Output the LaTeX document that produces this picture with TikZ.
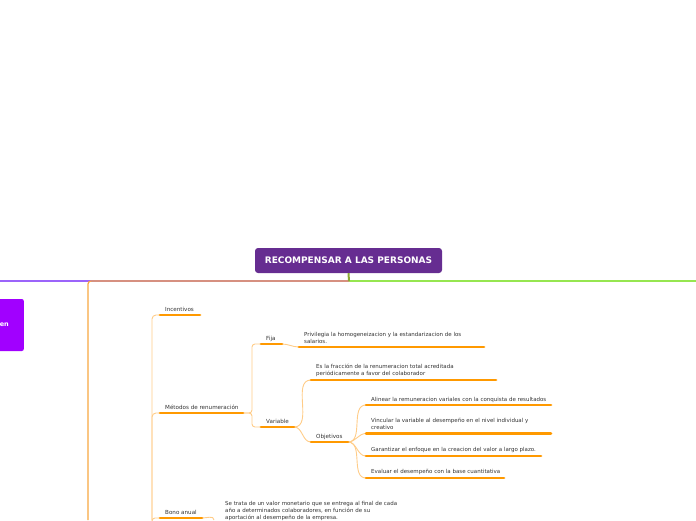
\documentclass[tikz,border=0pt]{standalone}
\usepackage{fontspec}
\setmainfont{DejaVu Sans}
\usetikzlibrary{positioning,calc}
\definecolor{rootpurple}{RGB}{102,45,145}
\definecolor{sideviolet}{RGB}{161,0,255}
\definecolor{purpline}{RGB}{155,100,250}
\definecolor{greenline}{RGB}{150,230,80}
\definecolor{stemolive}{RGB}{140,170,50}
\definecolor{trunkorange}{RGB}{247,168,64}
\definecolor{barorange}{RGB}{255,153,0}
\definecolor{linkorange}{RGB}{255,204,136}
\definecolor{textgray}{RGB}{51,51,51}

\begin{document}
\begin{tikzpicture}[x=1pt, y=-1pt,
  root/.style={rectangle, rounded corners=3pt, fill=rootpurple, text=white, font=\fontsize{9}{11}\selectfont\bfseries, minimum width=187pt, minimum height=25pt, inner sep=0pt},
  side/.style={rectangle, rounded corners=2pt, fill=sideviolet, text=white, font=\fontsize{6.5}{8}\selectfont\bfseries, minimum height=52pt, inner xsep=15pt},
  topic/.style={anchor=base west, inner sep=0pt, text=textgray, font=\fontsize{5.6}{7}\selectfont},
  detail/.style={anchor=base west, inner sep=0pt, align=left, text=textgray, font=\fontsize{5.5}{6.8}\selectfont},
  bar/.style={draw=barorange, line width=2.8pt, line cap=round},
  link/.style={draw=linkorange, line width=0.9pt},
  branch/.style={line width=2pt},
]
\useasboundingbox (0,0) rectangle (696,520);

% === Root and main branches ===
\node[root] (root) at (348.5,260.5) {RECOMPENSAR A LAS PERSONAS};
\node[side, anchor=east] (side) at (24,325) {en};

\coordinate (hub) at (349,281);
\coordinate (west) at (0,281);
\coordinate (east) at (696,281);
\coordinate (down) at (88,520);

\draw[branch, purpline] (hub) -- (west);
\draw[branch, greenline] (hub) -- (east);
\draw[trunkorange, line width=1.2pt, rounded corners=3pt] (hub) -| (down);
\draw[branch, stemolive] (root.south) -- (hub);

% === Level 1 ===
\coordinate (inc-l) at (160,315);   \coordinate (inc-r) at (200,315);
\coordinate (met-l) at (160,413);   \coordinate (met-r) at (243,413);
\coordinate (bono-l) at (160,518);  \coordinate (bono-r) at (202,518);
\coordinate (dmb) at (152,520);

\node[topic] (inc) at (165,311) {Incentivos};
\node[topic] (met) at (165,409) {Métodos de renumeración};
\node[topic] (bono) at (165,514) {Bono anual};

\draw[link, rounded corners=4pt] (inc-l) -| (dmb);
\draw[link, rounded corners=4pt] (met-l) -| (dmb);

% === Métodos: Fija / Variable ===
\coordinate (fija-l) at (261,344);  \coordinate (fija-r) at (282,344);
\coordinate (vari-l) at (261,427);  \coordinate (vari-r) at (294,427);

\node[topic] (fija) at (266,340) {Fija};
\node[topic] (vari) at (266,423) {Variable};

\draw[link, rounded corners=3pt] (met-r) -- ++(9,0) |- (fija-l);
\draw[link, rounded corners=3pt] (met-r) -- ++(9,0) |- (vari-l);

% === Fija ===
\coordinate (priv-l) at (299,347);  \coordinate (priv-r) at (484,347);
\node[detail] (priv) at (304,343) {Privilegia la homogeneizacion y la estandarizacion de los\\salarios.};
\draw[link] (fija-r) to[out=0, in=180] (priv-l);

% === Variable ===
\coordinate (frac-l) at (311,380);  \coordinate (frac-r) at (496,380);
\coordinate (obj-l) at (311,442);   \coordinate (obj-r) at (348,442);
\node[detail] (frac) at (316,375.5) {Es la fracción de la renumeracion total acreditada\\periódicamente a favor del colaborador};
\node[topic] (obj) at (316,438) {Objetivos};
\draw[link] (vari-r) to[out=0, in=180] (frac-l);
\draw[link] (vari-r) to[out=0, in=180] (obj-l);

% === Objetivos ===
\coordinate (ali-l) at (366,405);   \coordinate (ali-r) at (551,405);
\coordinate (vin-l) at (366,433.5); \coordinate (vin-r) at (551,433.5);
\coordinate (gar-l) at (366,456);   \coordinate (gar-r) at (541,456);
\coordinate (eva-l) at (366,478);   \coordinate (eva-r) at (504,478);
\node[detail] (ali) at (371,401) {Alinear la remuneracion variales con la conquista de resultados};
\node[detail] (vin) at (371,429.5) {Vincular la variable al desempeño en el nivel individual y\\creativo};
\node[detail] (gar) at (371,451) {Garantizar el enfoque en la creacion del valor a largo plazo.};
\node[detail] (eva) at (371,473) {Evaluar el desempeño con la base cuantitativa};
\foreach \k in {ali,vin,gar,eva}
  \draw[link] (obj-r) to[out=0, in=180] (\k-l);

% === Bono anual ===
\coordinate (setr-l) at (214,520);
\node[detail] (setr) at (225,519.5) {Se trata de un valor monetario que se entrega al final de cada\\año a determinados colaboradores, en función de su\\aportación al desempeño de la empresa.};
\draw[link, rounded corners=3pt] (bono-l) -| (dmb);
\draw[link] (bono-r) to[out=0, in=90] (setr-l);

% === Bars ===
\foreach \k in {inc,met,bono,fija,vari,priv,frac,obj,ali,vin,gar,eva}
  \draw[bar] (\k-l) -- (\k-r);

\end{tikzpicture}
\end{document}
